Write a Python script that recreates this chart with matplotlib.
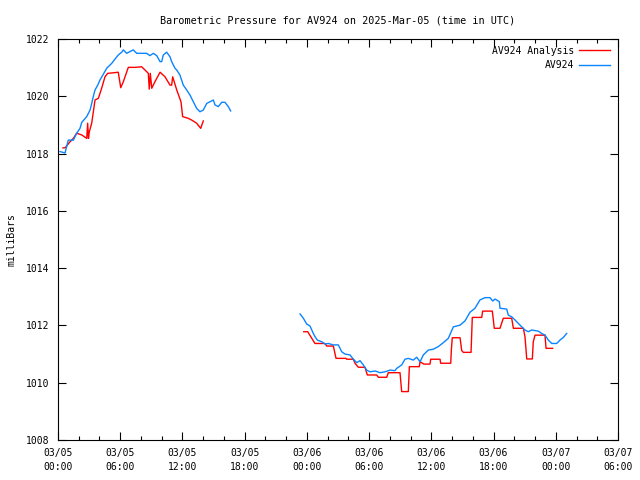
"""Barometric pressure for AV924, recreated as a gnuplot-style line chart."""

import numpy as np
import matplotlib

matplotlib.use("Agg")
import matplotlib.pyplot as plt
from matplotlib.ticker import MultipleLocator

# hours since 2025-03-05 00:00 UTC, pressure in mb
obs1_hours = [0.19, 0.68, 0.99, 1.48, 1.80, 2.12, 2.29, 2.77, 3.09, 3.25, 3.40, 3.57,
              3.83, 4.05, 4.37, 4.70, 5.18, 5.50, 5.81, 6.14, 6.30, 6.62, 6.94, 7.26,
              7.59, 8.55, 8.87, 9.19, 9.52, 9.84, 10.00, 10.15, 10.48, 10.80, 10.96,
              11.28, 11.44, 11.76, 12.08, 12.41, 12.73, 13.05, 13.37, 13.69, 14.01,
              14.34, 14.66, 14.98, 15.14, 15.46, 15.79, 16.10, 16.42, 16.65]
obs1_mb = [1018.07, 1018.02, 1018.47, 1018.47, 1018.71, 1018.88, 1019.09, 1019.29,
           1019.52, 1019.75, 1019.99, 1020.22, 1020.39, 1020.57, 1020.77, 1020.98,
           1021.15, 1021.30, 1021.44, 1021.54, 1021.62, 1021.50, 1021.56, 1021.62,
           1021.50, 1021.50, 1021.42, 1021.50, 1021.42, 1021.21, 1021.21, 1021.44,
           1021.54, 1021.38, 1021.21, 1020.98, 1020.92, 1020.74, 1020.39, 1020.22,
           1020.04, 1019.81, 1019.58, 1019.46, 1019.52, 1019.75, 1019.81, 1019.87,
           1019.70, 1019.64, 1019.79, 1019.79, 1019.64, 1019.49]

obs2_hours = [23.34, 23.66, 23.98, 24.30, 24.62, 24.78, 25.00, 25.43, 25.75, 26.07,
              26.55, 27.03, 27.36, 27.68, 28.16, 28.48, 28.81, 29.12, 29.44, 29.77,
              30.09, 30.57, 31.05, 31.53, 32.02, 32.50, 32.66, 33.14, 33.46, 33.78,
              34.26, 34.59, 34.91, 35.23, 35.71, 36.19, 36.67, 37.16, 37.64, 38.12,
              38.77, 39.25, 39.73, 40.21, 40.69, 41.18, 41.66, 41.92, 42.14, 42.56,
              42.62, 43.27, 43.42, 43.75, 44.07, 44.39, 44.72, 45.03, 45.35, 45.68,
              46.32, 46.64, 46.96, 47.28, 47.61, 48.09, 48.41, 48.73, 49.05]
obs2_mb = [1012.40, 1012.25, 1012.05, 1011.98, 1011.72, 1011.61, 1011.49, 1011.43,
           1011.35, 1011.37, 1011.32, 1011.32, 1011.08, 1011.00, 1010.97, 1010.82,
           1010.70, 1010.77, 1010.62, 1010.44, 1010.38, 1010.41, 1010.35, 1010.38,
           1010.44, 1010.42, 1010.50, 1010.62, 1010.82, 1010.85, 1010.79, 1010.89,
           1010.73, 1010.97, 1011.14, 1011.17, 1011.26, 1011.40, 1011.55, 1011.95,
           1012.01, 1012.16, 1012.46, 1012.60, 1012.89, 1012.97, 1012.97, 1012.85,
           1012.92, 1012.83, 1012.60, 1012.57, 1012.36, 1012.30, 1012.19, 1012.07,
           1011.95, 1011.84, 1011.78, 1011.84, 1011.80, 1011.72, 1011.66, 1011.49,
           1011.37, 1011.37, 1011.49, 1011.58, 1011.72]

ana1_hours = [0.48, 0.68, 1.16, 1.48, 1.80, 2.29, 2.77, 2.86, 2.94, 3.02, 3.25, 3.57,
              3.89, 4.05, 4.21, 4.53, 4.79, 5.33, 5.81, 6.05, 6.30, 6.78, 7.43, 8.07,
              8.55, 8.71, 8.80, 8.90, 9.04, 9.35, 9.84, 10.32, 10.80, 10.96, 11.06,
              11.45, 11.86, 12.02, 12.56, 12.89, 13.37, 13.76, 14.01]
ana1_mb = [1018.20, 1018.20, 1018.41, 1018.53, 1018.71, 1018.65, 1018.53, 1019.06,
           1018.53, 1018.76, 1019.06, 1019.87, 1019.93, 1020.10, 1020.28, 1020.68,
           1020.80, 1020.82, 1020.84, 1020.30, 1020.51, 1021.01, 1021.01, 1021.03,
           1020.86, 1020.80, 1020.25, 1020.80, 1020.28, 1020.51, 1020.84, 1020.68,
           1020.39, 1020.39, 1020.68, 1020.22, 1019.81, 1019.29, 1019.23, 1019.17,
           1019.06, 1018.88, 1019.14]

ana2_hours = [23.70, 24.09, 24.18, 24.78, 25.75, 25.91, 26.55, 26.81, 27.77, 27.84,
              28.48, 28.64, 28.96, 29.60, 29.83, 30.73, 30.89, 31.70, 31.85, 32.98,
              33.14, 33.78, 33.88, 34.84, 34.91, 35.29, 35.87, 35.94, 36.84, 36.90,
              37.87, 37.93, 38.02, 38.77, 38.93, 39.09, 39.83, 39.95, 40.86, 40.95,
              41.88, 41.98, 42.07, 42.62, 42.94, 43.75, 43.91, 44.87, 45.03, 45.20,
              45.74, 45.83, 46.00, 46.96, 47.06, 47.70]
ana2_mb = [1011.78, 1011.78, 1011.72, 1011.37, 1011.37, 1011.28, 1011.28, 1010.85,
           1010.85, 1010.82, 1010.82, 1010.68, 1010.54, 1010.54, 1010.27, 1010.27,
           1010.19, 1010.19, 1010.35, 1010.35, 1009.69, 1009.69, 1010.56, 1010.56,
           1010.73, 1010.65, 1010.65, 1010.82, 1010.82, 1010.68, 1010.68, 1011.14,
           1011.57, 1011.57, 1011.12, 1011.06, 1011.06, 1012.28, 1012.28, 1012.50,
           1012.50, 1012.19, 1011.90, 1011.90, 1012.25, 1012.25, 1011.90, 1011.90,
           1011.61, 1010.83, 1010.83, 1011.43, 1011.66, 1011.66, 1011.20, 1011.20]

tick_hours = [0, 6, 12, 18, 24, 30, 36, 42, 48, 54]
tick_labels = ["03/05\n00:00", "03/05\n06:00", "03/05\n12:00", "03/05\n18:00",
               "03/06\n00:00", "03/06\n06:00", "03/06\n12:00", "03/06\n18:00",
               "03/07\n00:00", "03/07\n06:00"]

RED = "#ff0000"
BLUE = "#0a84ff"

plt.rcParams["font.family"] = ["DejaVu Sans Mono"]
plt.rcParams["font.size"] = 7

fig = plt.figure(figsize=(6.4, 4.8), dpi=100)
ax = fig.add_axes([58 / 640, 40 / 480, 560 / 640, 401 / 480])

ax.plot(ana1_hours, ana1_mb, color=RED, lw=1.0, label="AV924 Analysis")
ax.plot(ana2_hours, ana2_mb, color=RED, lw=1.0)
ax.plot(obs1_hours, obs1_mb, color=BLUE, lw=1.0, label="AV924")
ax.plot(obs2_hours, obs2_mb, color=BLUE, lw=1.0)

ax.set_xlim(0, 54)
ax.set_ylim(1008, 1022)
ax.set_xticks(tick_hours)
ax.set_xticklabels(tick_labels, linespacing=1.5)
ax.xaxis.set_minor_locator(MultipleLocator(2))
ax.set_yticks(np.arange(1008, 1023, 2))
ax.tick_params(which="both", direction="in", top=True, right=True, width=0.8)
ax.tick_params(which="major", length=6, pad=6)
ax.tick_params(which="minor", length=3)
for spine in ax.spines.values():
    spine.set_linewidth(0.8)

ax.set_ylabel("milliBars", labelpad=7)
ax.set_title("Barometric Pressure for AV924 on 2025-Mar-05 (time in UTC)",
             fontsize=7.25, pad=11)

ax.legend(loc="upper right", frameon=False, markerfirst=False, handlelength=3.1,
          handletextpad=0.5, labelspacing=0.45, borderaxespad=0.3,
          bbox_to_anchor=(0.997, 1.0))

fig.savefig("out.png", dpi=100)
